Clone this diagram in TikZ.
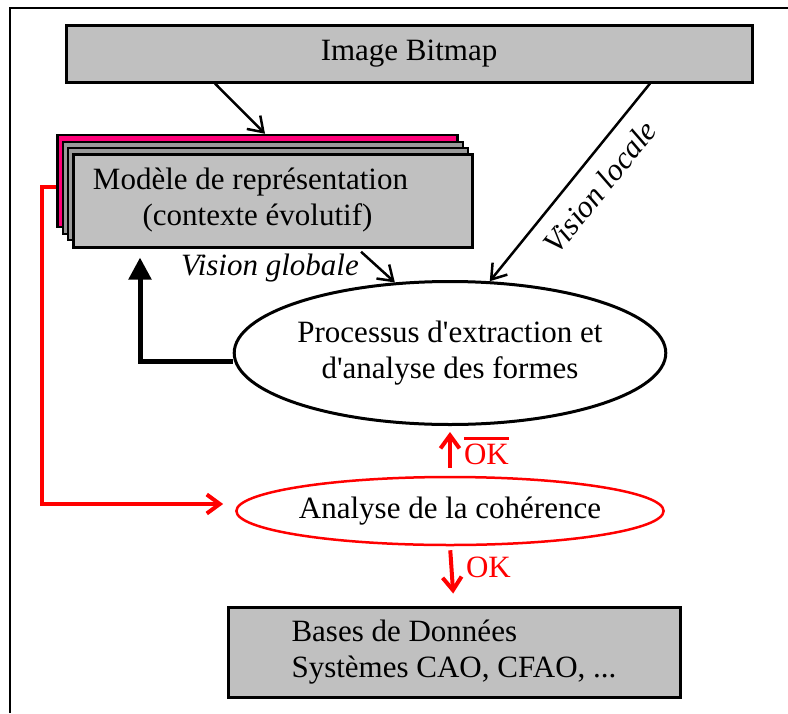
\documentclass[tikz,border=0pt]{standalone}
\usepackage{fontspec}
\setmainfont{Liberation Serif}[Ligatures=TeXOff]
\usetikzlibrary{shapes.geometric,arrows.meta}
\definecolor{boxgray}{HTML}{C0C0C0}
\definecolor{layergray}{HTML}{9A9A9A}
\definecolor{layerpink}{HTML}{FF0078}
\definecolor{linkred}{HTML}{FF0000}
\newcommand{\barOK}{{\setbox0\hbox{OK}\rlap{\raisebox{25pt}{\rule{\wd0}{3pt}}}OK}}

\begin{document}
\begin{tikzpicture}[
        x=1pt, y=-1pt,
        every node/.style={font=\fontsize{31}{36}\selectfont},
        box/.style={
            rectangle,
            draw,
            line width=3pt,
            fill=boxgray,
            inner sep=0pt
        },
        layer/.style={
            rectangle,
            draw,
            line width=2.5pt,
            inner sep=0pt,
            minimum width=400,
            minimum height=92
        },
        oval/.style={
            ellipse,
            draw,
            inner sep=0pt,
            align=center
        },
        arrow/.style={-{Straight Barb[length=14pt,width=19pt,line width=2.5pt]}, line width=2.5pt},
        redarrow/.style={-{Straight Barb[length=13pt,width=19pt,line width=4pt]}, line width=4pt, linkred},
        redlabel/.style={text=linkred, inner sep=2pt}
    ]

        \useasboundingbox (0,0) rectangle (788,713);
        \draw[line width=2.5pt] (10,713) -- (10,8) -- (788,8);

        \node[box, minimum width=686, minimum height=57] (bitmap) at (409,53.5) {Image Bitmap};

        % stacked model layers
        \node[layer, fill=layerpink] (layerA) at (257.5,181) {};
        \node[layer, fill=layergray] (layerB) at (263,188) {};
        \node[layer, fill=layergray] (layerC) at (268,194) {};
        \node[box, minimum width=399, minimum height=93, align=center] (model) at (272.5,200.5)
            {\hspace*{-44pt}Modèle de représentation\\\hspace*{-30pt}(contexte évolutif)};

        \node[oval, line width=3pt, minimum width=414, minimum height=143] (proc) at (450,353)
            {Processus d'extraction et\\d'analyse des formes};
        \node[oval, line width=2.5pt, draw=linkred, minimum width=414, minimum height=68] (cohe) at (450,511)
            {Analyse de la cohérence};
        \node[box, minimum width=452, minimum height=90, align=left] (db) at (454,652)
            {Bases de Données\\Systèmes CAO, CFAO, ...};

        \node[font=\fontsize{31}{36}\itshape, inner sep=2pt] (vglobal) at (270,268) {Vision globale};

        \draw[arrow] ([xshift=-194pt]bitmap.south) -- ([xshift=7.5pt]layerA.north);
        \draw[arrow] ([xshift=241pt]bitmap.south) -- (proc.61)
            node[sloped, below=14pt, pos=0.44, font=\fontsize{31}{36}\itshape, inner sep=0pt] (vlocale) {Vision locale};
        \draw[arrow] (vglobal.north east) -- (proc.128);
        \draw[-{Triangle[length=22pt,width=22pt]}, line width=5pt, shorten >=9pt]
            ([yshift=-8pt]proc.west) -| ([xshift=-132.5pt]model.south);

        \draw[redarrow] ([yshift=-6pt]layerA.west) -- ++(-14,0) |- ([yshift=7pt,xshift=-12pt]cohe.west);
        \draw[redarrow, shorten <=8pt, shorten >=6pt] (cohe.north) -- (proc.south)
            node[redlabel, right=10pt, midway] (notok) {\barOK};
        \draw[redarrow, shorten <=4pt, shorten >=12pt] (cohe.south) -- (db.north)
            node[redlabel, right=10pt, midway, yshift=8pt] (ok) {OK};

    \end{tikzpicture}
\end{document}
